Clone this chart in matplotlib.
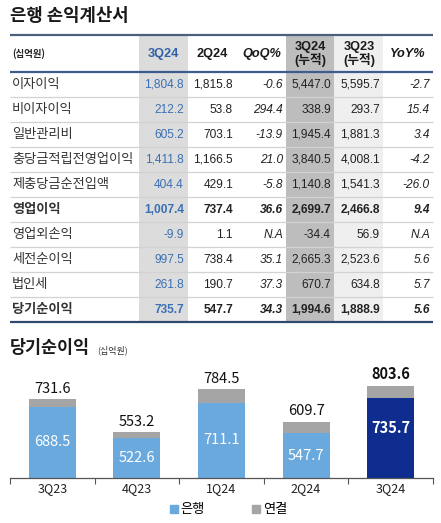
import numpy as np
import matplotlib.pyplot as plt
from matplotlib.lines import Line2D

# table data (십억원)
row_names = ['이자이익', '비이자이익', '일반관리비', '충당금적립전영업이익', '제충당금순전입액',
             '영업이익', '영업외손익', '세전순이익', '법인세', '당기순이익']
q3_24 = [1804.8, 212.2, 605.2, 1411.8, 404.4, 1007.4, -9.9, 997.5, 261.8, 735.7]
q2_24 = [1815.8, 53.8, 703.1, 1166.5, 429.1, 737.4, 1.1, 738.4, 190.7, 547.7]
qoq = [-0.6, 294.4, -13.9, 21.0, -5.8, 36.6, None, 35.1, 37.3, 34.3]
cum_3q24 = [5447.0, 338.9, 1945.4, 3840.5, 1140.8, 2699.7, -34.4, 2665.3, 670.7, 1994.6]
cum_3q23 = [5595.7, 293.7, 1881.3, 4008.1, 1541.3, 2466.8, 56.9, 2523.6, 634.8, 1888.9]
yoy = [-2.7, 15.4, 3.4, -4.2, -26.0, 9.4, None, 5.6, 5.7, 5.6]
col_headers = ['3Q24', '2Q24', 'QoQ%', '3Q24\n(누적)', '3Q23\n(누적)', 'YoY%']
bold_rows = ['영업이익', '당기순이익']

# bar chart data
quarters = ['3Q23', '4Q23', '1Q24', '2Q24', '3Q24']
bank = np.array([688.5, 522.6, 711.1, 547.7, 735.7])
total = np.array([731.6, 553.2, 784.5, 609.7, 803.6])
consol = total - bank

KR = ['Noto Sans CJK KR', 'DejaVu Sans']
NUM = ['Liberation Sans', 'Noto Sans CJK KR']

W, H = 441, 523
fig = plt.figure(figsize=(W / 100, H / 100), dpi=100)

# ---- table, drawn in pixel coordinates ----
ax = fig.add_axes([0, 0, 1, 1])
ax.set_xlim(0, W)
ax.set_ylim(H, 0)
ax.axis('off')

top, head_bot, row_h = 35, 71.7, 25
n = len(row_names)
bot = head_bot + n * row_h
left, right = 10, 433

# shaded columns
ax.fill_between([139, 188], top, bot, color='#DCDCDC', lw=0)
ax.fill_between([286, 334], top, bot, color='#BDBDBD', lw=0)
ax.fill_between([334, 383], top, bot, color='#EFEFEF', lw=0)

for i in range(1, n):
    ax.hlines(head_bot + i * row_h, left, right, color='#D2D2D2', lw=0.9)
ax.hlines(top, left, right, color='#4A5F7A', lw=1.6)
ax.hlines(head_bot, left, right, color='#3C5C8E', lw=1.6)
ax.hlines(bot, left, right, color='#2F4A6E', lw=1.6)

ax.text(10, 16, '은행 손익계산서', fontsize=12.8, fontweight='bold', family=KR,
        ha='left', va='center', color='#1A1A1A')
ax.text(12, (top + head_bot) / 2, '(십억원)', fontsize=6.8, fontweight='bold', family=KR,
        ha='left', va='center', color='#222222')

head_x = [163, 212, 262, 310, 359, 408]
for j, h in enumerate(col_headers):
    color = '#2F62A8' if j == 0 else '#1A1A1A'
    style = 'italic' if h.endswith('%') else 'normal'
    ax.text(head_x[j], (top + head_bot) / 2 + 1, h, fontsize=9.2, fontweight='bold', family=NUM,
            style=style, ha='center', va='center', color=color, linespacing=1.0)


def fmt(v):
    return 'N.A' if v is None else f'{v:,.1f}'


col_right = [184, 233, 283, 331, 380, 430]
cols = [q3_24, q2_24, qoq, cum_3q24, cum_3q23, yoy]
for i, name in enumerate(row_names):
    y = head_bot + i * row_h + row_h / 2
    weight = 'bold' if name in bold_rows else 'normal'
    ax.text(12, y, name, fontsize=9.5, fontweight=weight, family=KR,
            ha='left', va='center', color='#333333')
    for j, col in enumerate(cols):
        color = '#3A70B3' if j == 0 else '#222222'
        style = 'italic' if j in (2, 5) else 'normal'
        ax.text(col_right[j], y + 0.5, fmt(col[i]), fontsize=8.6, fontweight=weight,
                family=NUM, style=style, ha='right', va='center', color=color)

ax.text(10, 348, '당기순이익', fontsize=12.5, fontweight='bold', family=KR,
        ha='left', va='center', color='#1A1A1A')
ax.text(97, 350, '(십억원)', fontsize=6.5, family=KR, ha='left', va='center', color='#333333')

# ---- bar chart ----
y0 = 304.6
scale = 0.185  # px per unit
ax_top, ax_bot = 370, 478
bx = fig.add_axes([10 / W, (H - ax_bot) / H, 423 / W, (ax_bot - ax_top) / H])
bx.set_xlim(-0.5, len(quarters) - 0.5)
bx.set_ylim(y0, y0 + (ax_bot - ax_top) / scale)

x = np.arange(len(quarters))
bank_colors = ['#6AA9DE'] * (len(quarters) - 1) + ['#0E2D8E']
bx.bar(x, bank, width=0.555, color=bank_colors)
bx.bar(x, consol, bottom=bank, width=0.555, color='#A5A5A5')

for i in range(len(quarters)):
    last = i == len(quarters) - 1
    bx.annotate(f'{total[i]:.1f}', (x[i], total[i]), xytext=(0, 2.5), textcoords='offset points',
                ha='center', va='bottom', fontsize=10.5, family=KR,
                fontweight='bold' if last else 'normal', color='#111111')
    bx.annotate(f'{bank[i]:.1f}', (x[i], (y0 + bank[i]) / 2), xytext=(0, 7 if last else 0),
                textcoords='offset points', ha='center', va='center', fontsize=10.5, family=KR,
                fontweight='bold' if last else 'normal', color='white')

for s in ['top', 'left', 'right']:
    bx.spines[s].set_visible(False)
bx.spines['bottom'].set_color('#555555')
bx.spines['bottom'].set_linewidth(0.9)
bx.set_yticks([])
bx.set_xticks(x)
bx.set_xticklabels(quarters, family=KR, fontsize=9, color='#222222')
bx.tick_params(axis='x', length=0, pad=3)
bx.set_xticks(np.arange(-0.5, len(quarters)), minor=True)
bx.tick_params(axis='x', which='minor', length=4, width=0.8, color='#555555')

handles = [Line2D([], [], ls='', marker='s', markersize=6, color='#6AA9DE'),
           Line2D([], [], ls='', marker='s', markersize=6, color='#A5A5A5')]
fig.legend(handles, ['은행', '연결'], loc='center', bbox_to_anchor=(228 / W, (H - 510) / H),
           ncol=2, frameon=False, prop={'family': KR, 'size': 9.5}, handletextpad=0.1,
           columnspacing=3.5, handlelength=0.8)

fig.savefig('out.png', dpi=100)
